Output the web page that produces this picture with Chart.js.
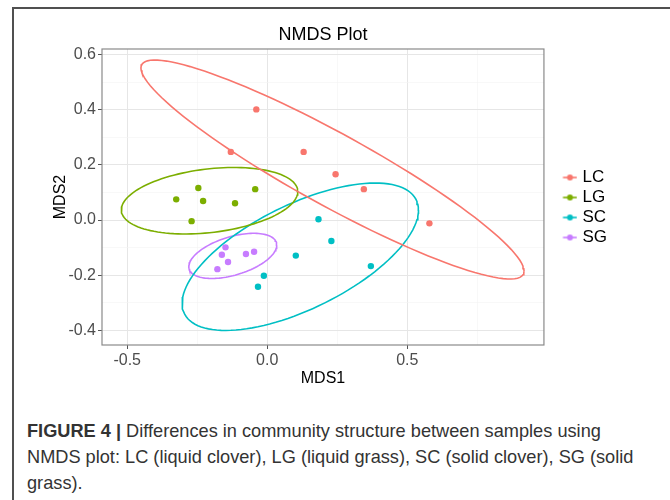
<!DOCTYPE html>
<html lang="en">
<head>
<meta charset="UTF-8">
<title>NMDS Plot</title>
<script src="https://cdn.jsdelivr.net/npm/chart.js"></script>
<style>
  body { margin: 0; background: #fff; }
  #frame { position: absolute; left: 12px; top: 7px; width: 700px; height: 520px;
           border-top: 2px solid #505050; border-left: 2px solid #505050; }
  #wrap { position: absolute; left: 0; top: 0; width: 670px; height: 400px; }
  #caption { position: absolute; left: 27px; top: 418px; font-family: "Liberation Sans", Arial, sans-serif;
             font-size: 18.2px; line-height: 26px; color: #333; white-space: nowrap; }
</style>
</head>
<body>
<div id="frame"></div>
<div id="wrap"><canvas id="nmdsChart" width="670" height="400"></canvas></div>
<div id="caption"><b>FIGURE 4 |</b> Differences in community structure between samples using<br>NMDS plot: LC (liquid clover), LG (liquid grass), SC (solid clover), SG (solid<br>grass).</div>

<script>
    // groups and colours
    var groups = ['LC', 'LG', 'SC', 'SG'];
    var colors = ['#F8766D', '#7CAE00', '#00BFC4', '#C77CFF'];

    // sample scores
    var lcX = [-0.039, -0.130, 0.130, 0.244, 0.345, 0.579];
    var lcY = [0.401, 0.247, 0.247, 0.166, 0.112, -0.012];
    var lgX = [-0.325, -0.246, -0.229, -0.270, -0.115, -0.043];
    var lgY = [0.075, 0.116, 0.069, -0.004, 0.061, 0.112];
    var scX = [0.183, 0.102, -0.012, -0.033, 0.229, 0.370];
    var scY = [0.003, -0.129, -0.202, -0.242, -0.076, -0.167];
    var sgX = [-0.149, -0.162, -0.140, -0.178, -0.076, -0.047];
    var sgY = [-0.099, -0.126, -0.152, -0.178, -0.123, -0.115];

    // ellipses: centre, offset to the right-most point, vertical half chord through centre
    var ellCenter = [[0.233, 0.183], [-0.206, 0.070], [0.118, -0.133], [-0.123, -0.130]];
    var ellRight = [[0.684, -0.368], [0.315, 0.033], [0.422, 0.169], [0.157, 0.039]];
    var ellHalf = [0.149, 0.116, 0.207, 0.072];

    // axis ticks
    var xTicks = [-0.5, 0.0, 0.5];
    var xMinor = [-0.25, 0.25, 0.75];
    var yTicks = [-0.4, -0.2, 0.0, 0.2, 0.4, 0.6];
    var yMinor = [-0.3, -0.1, 0.1, 0.3, 0.5];

    var xs = [lcX, lgX, scX, sgX];
    var ys = [lcY, lgY, scY, sgY];

    function toPoints(xv, yv) {
        return xv.map(function (v, i) { return {x: v, y: yv[i]}; });
    }

    function ellipsePath(g) {
        var pts = [];
        for (var k = 0; k <= 120; k++) {
            var t = 2 * Math.PI * k / 120;
            pts.push({
                x: ellCenter[g][0] + ellRight[g][0] * Math.cos(t),
                y: ellCenter[g][1] + ellRight[g][1] * Math.cos(t) + ellHalf[g] * Math.sin(t)
            });
        }
        return pts;
    }

    // legend key: short line with a dot
    function keyImage(color) {
        var c = document.createElement('canvas');
        c.width = 34; c.height = 10;
        var g = c.getContext('2d');
        g.strokeStyle = color; g.lineWidth = 1.6;
        g.beginPath(); g.moveTo(19.5, 5); g.lineTo(33.5, 5); g.stroke();
        g.fillStyle = color;
        g.beginPath(); g.arc(26.5, 5, 3, 0, 2 * Math.PI); g.fill();
        return c;
    }

    var datasets = [];
    groups.forEach(function (name, g) {
        datasets.push({
            label: name,
            data: toPoints(xs[g], ys[g]),
            backgroundColor: colors[g],
            borderColor: colors[g],
            pointRadius: 3.2,
            pointBorderWidth: 0,
            showLine: false
        });
    });
    groups.forEach(function (name, g) {
        datasets.push({
            label: name + ' ellipse',
            data: ellipsePath(g),
            borderColor: colors[g],
            borderWidth: 1.6,
            pointRadius: 0,
            showLine: true,
            fill: false,
            tension: 0
        });
    });

    var panelBorder = {
        id: 'panelBorder',
        afterDraw: function (chart) {
            var a = chart.chartArea, c = chart.ctx;
            c.save();
            c.strokeStyle = '#8a8a8a';
            c.lineWidth = 1.2;
            c.strokeRect(a.left, a.top, a.right - a.left, a.bottom - a.top);
            c.restore();
        }
    };

    function gridColor(major) {
        return function (c) { return (c.tick && major.indexOf(c.tick.value) >= 0) ? '#e6e6e6' : '#f3f3f3'; };
    }
    function gridWidth(major) {
        return function (c) { return (c.tick && major.indexOf(c.tick.value) >= 0) ? 1 : 0.6; };
    }
    function tickColor(major) {
        return function (c) { return (c.tick && major.indexOf(c.tick.value) >= 0) ? '#555' : 'rgba(0,0,0,0)'; };
    }

    Chart.defaults.font.family = '"Liberation Sans", Arial, sans-serif';

    var ctx = document.getElementById('nmdsChart').getContext('2d');
    var nmdsChart = new Chart(ctx, {
        type: 'scatter',
        data: { datasets: datasets },
        plugins: [panelBorder],
        options: {
            responsive: false,
            animation: false,
            layout: { padding: { top: 23, left: 50, right: 53, bottom: 8 } },
            plugins: {
                title: {
                    display: true,
                    text: 'NMDS Plot',
                    fullSize: false,
                    color: '#000',
                    font: { size: 18, weight: 'normal' },
                    padding: { top: 1, bottom: 3.4 }
                },
                legend: {
                    position: 'right',
                    labels: {
                        usePointStyle: true,
                        pointStyleWidth: 27,
                        padding: 3,
                        color: '#000',
                        font: { size: 17 },
                        generateLabels: function (chart) {
                            return groups.map(function (name, g) {
                                return {
                                    text: name,
                                    pointStyle: keyImage(colors[g]),
                                    fillStyle: colors[g],
                                    strokeStyle: colors[g],
                                    lineWidth: 0,
                                    hidden: false,
                                    datasetIndex: g
                                };
                            });
                        }
                    }
                },
                tooltip: { enabled: false }
            },
            scales: {
                x: {
                    type: 'linear',
                    min: -0.59,
                    max: 0.988,
                    afterBuildTicks: function (s) {
                        s.ticks = xTicks.concat(xMinor).sort(function (a, b) { return a - b; })
                            .map(function (v) { return {value: v}; });
                    },
                    afterFit: function (s) { s.height = 47; },
                    border: { display: false },
                    grid: { color: gridColor(xTicks), lineWidth: gridWidth(xTicks), tickLength: 4,
                            tickColor: tickColor(xTicks), tickWidth: 1 },
                    ticks: {
                        autoSkip: false, maxRotation: 0, padding: 2,
                        color: '#4d4d4d', font: { size: 16 },
                        callback: function (v) { return xTicks.indexOf(v) >= 0 ? v.toFixed(1) : ''; }
                    },
                    title: { display: true, text: 'MDS1', color: '#000', font: { size: 16 },
                             padding: { top: 0, bottom: 4 } }
                },
                y: {
                    type: 'linear',
                    min: -0.453,
                    max: 0.62,
                    afterBuildTicks: function (s) {
                        s.ticks = yTicks.concat(yMinor).sort(function (a, b) { return a - b; })
                            .map(function (v) { return {value: v}; });
                    },
                    afterFit: function (s) { s.width = 52; },
                    border: { display: false },
                    grid: { color: gridColor(yTicks), lineWidth: gridWidth(yTicks), tickLength: 4,
                            tickColor: tickColor(yTicks), tickWidth: 1 },
                    ticks: {
                        autoSkip: false, padding: 2,
                        color: '#4d4d4d', font: { size: 16 },
                        callback: function (v) { return yTicks.indexOf(v) >= 0 ? v.toFixed(1) : ''; }
                    },
                    title: { display: true, text: 'MDS2', color: '#000', font: { size: 16 },
                             padding: { top: 1, bottom: 0 } }
                }
            }
        }
    });
</script>
</body>
</html>
